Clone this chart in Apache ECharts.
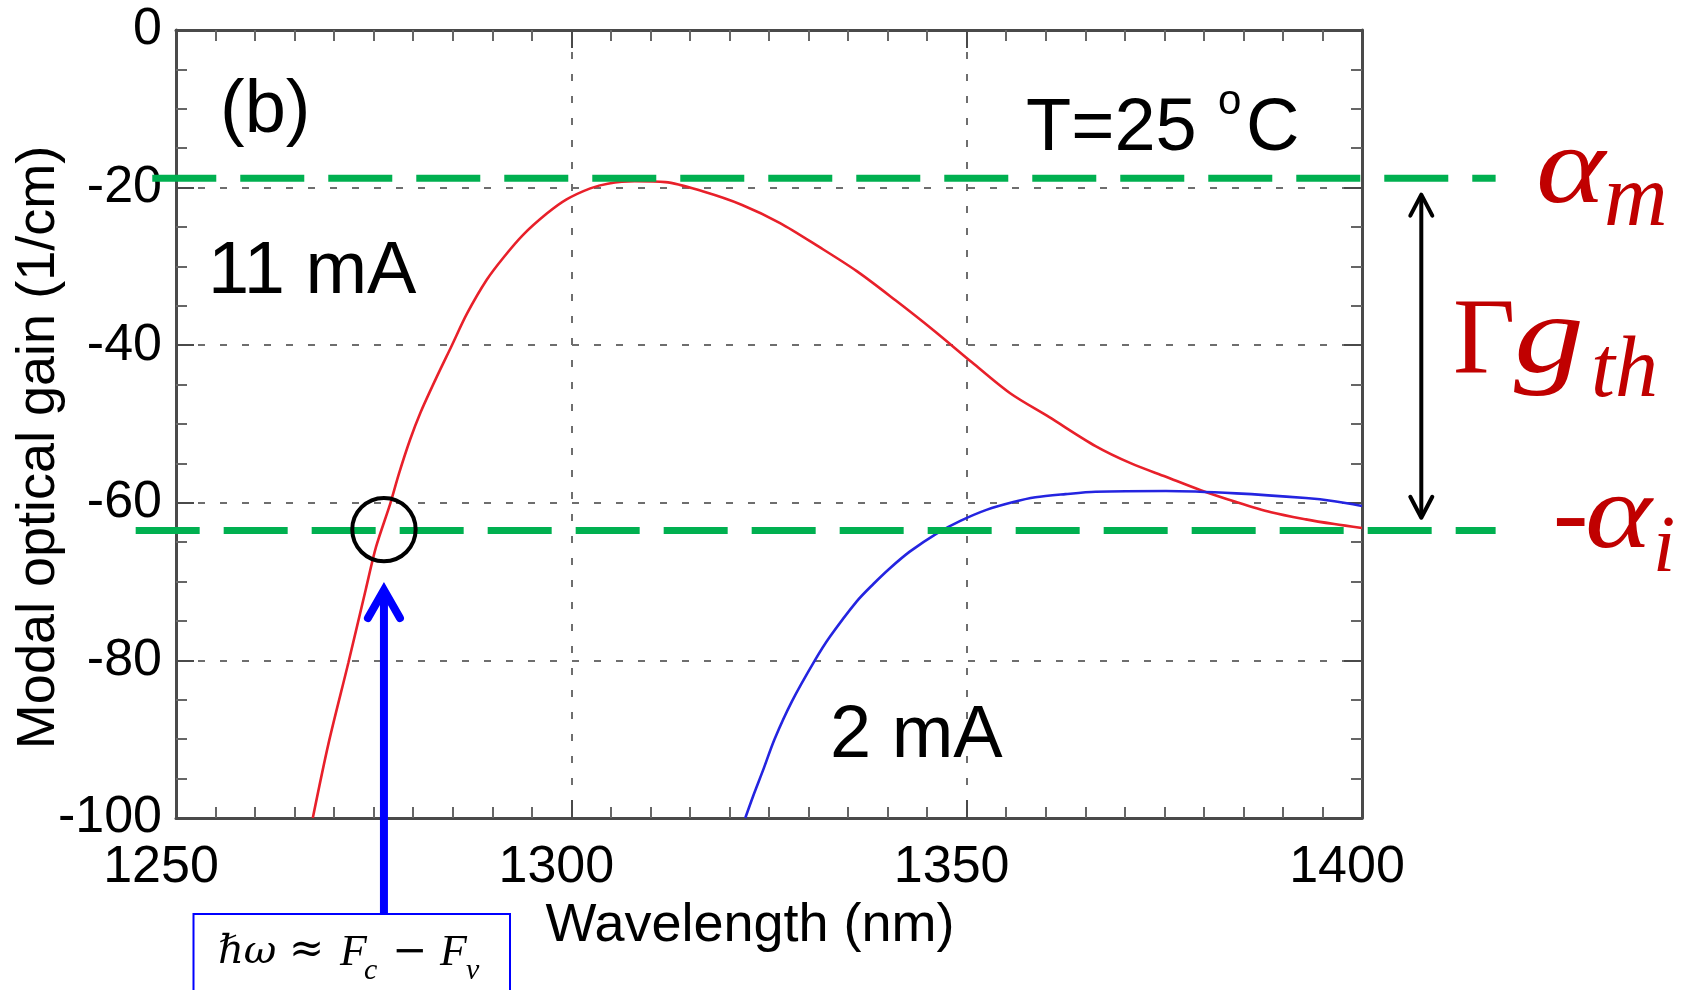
<!DOCTYPE html>
<html><head><meta charset="utf-8">
<script src="https://cdn.jsdelivr.net/npm/echarts@6/dist/echarts.min.js"></script>
<style>html,body{margin:0;padding:0;background:#fff;}#c{width:1688px;height:990px;}</style>
</head><body><div id="c"></div>
<script>
// ---- data ----
const xTickLabels = ['1250', '1300', '1350', '1400'];
const yTickLabels = ['-100', '-80', '-60', '-40', '-20', '0'];
const wl11 = [1267.3, 1269.3, 1271.8, 1274.0, 1275.3, 1277.1, 1278.2, 1279.6, 1280.9, 1282.8, 1284.9, 1286.8, 1289.3, 1291.4, 1293.9, 1296.9, 1299.4, 1302.4, 1304.6, 1308.0, 1311.9, 1316.7, 1321.6, 1326.4, 1331.3, 1336.1, 1341.0, 1345.8, 1350.7, 1355.5, 1360.4, 1366.3, 1370.8, 1375.2, 1379.6, 1384.1, 1388.5, 1392.9, 1396.5, 1400.0];
const gain11 = [-100, -90.5, -80.3, -71.0, -65.6, -60.1, -56.3, -52.0, -48.6, -44.4, -40.0, -36.0, -31.7, -28.9, -26.0, -23.3, -21.5, -20.1, -19.5, -19.2, -19.3, -20.5, -22.2, -24.5, -27.5, -30.6, -34.3, -38.1, -42.2, -46.1, -49.1, -52.8, -55.0, -56.7, -58.4, -59.9, -61.2, -62.1, -62.7, -63.2];
const wl2 = [1322.0, 1323.0, 1324.3, 1325.7, 1327.9, 1330.8, 1332.7, 1336.1, 1338.2, 1340.3, 1342.8, 1346.2, 1349.2, 1352.5, 1355.9, 1358.7, 1362.5, 1366.3, 1375.2, 1384.1, 1392.9, 1396.5, 1400.0];
const gain2 = [-100, -97.2, -93.8, -90.0, -85.2, -80.0, -77.0, -72.5, -70.3, -68.3, -66.2, -63.9, -62.3, -60.9, -59.9, -59.3, -58.9, -58.6, -58.5, -58.8, -59.4, -59.8, -60.4];
const alphaM = -18.8;        // mirror loss level
const minusAlphaI = -63.5;   // internal loss level
const alphaMSpan = [1247.0, 1416.9];
const alphaISpan = [1244.9, 1416.9];
const circleAt = [1276.3, -63.4];
const gthArrow = [1407.5, -20.9, -61.9];  // x, top, bottom

const chart = echarts.init(document.getElementById('c'));
const sans = 'Liberation Sans, Arial, sans-serif';
const serif = 'Liberation Serif, DejaVu Serif, serif';
const axisCol = '#4a4a4a';

function baseAxis(extra) {
  return Object.assign({
    axisLine: {show: true, onZero: false, lineStyle: {color: axisCol, width: 3}},
    axisTick: {show: true, inside: true, length: 18, lineStyle: {color: axisCol, width: 2}},
    minorTick: {show: true, length: 11, lineStyle: {color: '#666', width: 2}},
    splitLine: {show: false}
  }, extra);
}

const option = {
  backgroundColor: '#fff',
  animation: false,
  grid: {left: 176, right: 326, top: 30, bottom: 172, containLabel: false, outerBoundsMode: 'none'},
  xAxis: [
    baseAxis({
      type: 'value', min: 1250, max: 1400, interval: 50,
      minorTick: {show: true, splitNumber: 10, length: 11, lineStyle: {color: '#666', width: 2}},
      name: 'Wavelength (nm)', nameLocation: 'middle', nameGap: 68,
      nameTextStyle: {fontFamily: sans, fontSize: 54, color: '#000', padding: [0, 38, 0, 0]},
      axisLabel: {fontFamily: sans, fontSize: 52, color: '#000', margin: 24, padding: [0, 30, 0, 0],
        formatter: v => xTickLabels[Math.round((v - 1250) / 50)]},
      splitLine: {show: true, lineStyle: {color: '#6e6e6e', width: 2, type: [7, 15]}}
    }),
    baseAxis({
      type: 'value', min: 1250, max: 1400, interval: 50, position: 'top',
      minorTick: {show: true, splitNumber: 10, length: 11, lineStyle: {color: '#666', width: 2}},
      axisLabel: {show: false}
    })
  ],
  yAxis: [
    baseAxis({
      type: 'value', min: -100, max: 0, interval: 20,
      minorTick: {show: true, splitNumber: 4, length: 11, lineStyle: {color: '#666', width: 2}},
      name: 'Modal optical gain (1/cm)', nameLocation: 'middle', nameGap: 110, nameMoveOverlap: false,
      nameTextStyle: {fontFamily: sans, fontSize: 54, color: '#000', padding: [0, 47, 0, 0]},
      axisLabel: {fontFamily: sans, fontSize: 52, color: '#000', margin: 14,
        formatter: v => yTickLabels[Math.round((v + 100) / 20)]},
      splitLine: {show: true, lineStyle: {color: '#6e6e6e', width: 2, type: [7, 15]}}
    }),
    baseAxis({
      type: 'value', min: -100, max: 0, interval: 20, position: 'right',
      minorTick: {show: true, splitNumber: 4, length: 11, lineStyle: {color: '#666', width: 2}},
      axisLabel: {show: false}
    })
  ],
  series: [
    {name: '11 mA', type: 'line', xAxisIndex: 0, yAxisIndex: 0, showSymbol: false, smooth: 0.3,
     data: wl11.map((x, i) => [x, gain11[i]]),
     lineStyle: {color: '#e8202a', width: 2.6}, z: 5},
    {name: '2 mA', type: 'line', xAxisIndex: 0, yAxisIndex: 0, showSymbol: false, smooth: 0.3,
     data: wl2.map((x, i) => [x, gain2[i]]),
     lineStyle: {color: '#2424e0', width: 2.6}, z: 5}
  ]
};
chart.setOption(option);

const P = (x, y) => chart.convertToPixel({gridIndex: 0}, [x, y]);
const red = '#c00000';
function txt(text, x, y, font, size, color, style, extra) {
  return Object.assign({type: 'text', x: x, y: y, z: 120,
    style: {text: text, fontFamily: font, fontSize: size, fill: color, fontStyle: style || 'normal',
      align: 'left', verticalAlign: 'middle'}}, extra || {});
}

const gA = [P(alphaMSpan[0], alphaM), P(alphaMSpan[1], alphaM)];
const gI = [P(alphaISpan[0], minusAlphaI), P(alphaISpan[1], minusAlphaI)];
const cc = P(circleAt[0], circleAt[1]);
const aTop = P(gthArrow[0], gthArrow[1]);
const aBot = P(gthArrow[0], gthArrow[2]);
const bx = cc[0];
const tipY = 590;
const boxTop = 914;
const dv = 'DejaVu Serif, serif';

const graphics = [
  {type: 'line', z: 100, shape: {x1: gA[0][0], y1: gA[0][1], x2: gA[1][0], y2: gA[1][1]},
   style: {stroke: '#00b050', lineWidth: 7, lineDash: [64, 24]}},
  {type: 'line', z: 100, shape: {x1: gI[0][0], y1: gI[0][1], x2: gI[1][0], y2: gI[1][1]},
   style: {stroke: '#00b050', lineWidth: 7, lineDash: [64, 24]}},
  {type: 'circle', z: 110, shape: {cx: cc[0], cy: cc[1], r: 31.7},
   style: {fill: 'none', stroke: '#000', lineWidth: 4}},
  // blue arrow
  {type: 'line', z: 110, shape: {x1: bx, y1: boxTop, x2: bx, y2: tipY},
   style: {stroke: '#0000ff', lineWidth: 8}},
  {type: 'polyline', z: 110, shape: {points: [[bx - 16, tipY + 28], [bx, tipY], [bx + 16, tipY + 28]]},
   style: {stroke: '#0000ff', lineWidth: 8, fill: 'none', lineCap: 'round', lineJoin: 'miter'}},
  {type: 'rect', z: 110, shape: {x: 193.5, y: boxTop, width: 316.5, height: 100},
   style: {fill: '#fff', stroke: '#0000ff', lineWidth: 2}},
  // double arrow
  {type: 'line', z: 110, shape: {x1: aTop[0], y1: aTop[1] + 2, x2: aBot[0], y2: aBot[1] - 2},
   style: {stroke: '#000', lineWidth: 4}},
  {type: 'polyline', z: 110, shape: {points: [[aTop[0] - 11, aTop[1] + 21], [aTop[0], aTop[1]], [aTop[0] + 11, aTop[1] + 21]]},
   style: {stroke: '#000', lineWidth: 4, fill: 'none', lineCap: 'round', lineJoin: 'round'}},
  {type: 'polyline', z: 110, shape: {points: [[aBot[0] - 11, aBot[1] - 21], [aBot[0], aBot[1]], [aBot[0] + 11, aBot[1] - 21]]},
   style: {stroke: '#000', lineWidth: 4, fill: 'none', lineCap: 'round', lineJoin: 'round'}},
  // in-plot labels
  txt('(b)', 220, 112, sans, 74, '#000'),
  txt('11 mA', 208, 273, sans, 74, '#000'),
  txt('T=25', 1026, 130, sans, 74, '#000'),
  txt('o', 1218, 102, sans, 42, '#000'),
  txt('C', 1246, 130, sans, 74, '#000'),
  txt('2 mA', 830, 737, sans, 74, '#000'),
  // right-side symbols
  txt('α', 1536, 173, serif, 110, red, 'italic', {scaleX: 1.2}),
  txt('m', 1604, 202, serif, 88, red, 'italic'),
  txt('Γ', 1453, 344, serif, 108, red),
  txt('g', 1514, 343, serif, 112, red, 'italic', {scaleX: 1.25}),
  txt('th', 1591, 373, serif, 86, red, 'italic'),
  txt('-', 1553, 519, serif, 106, red),
  txt('α', 1585, 519, serif, 106, red, 'italic', {scaleX: 1.2}),
  txt('i', 1653, 550, serif, 80, red, 'italic'),
  // formula in the box
  txt('ℏω', 218, 953, dv, 40, '#000', 'italic'),
  txt('≈', 289, 951, dv, 42, '#000'),
  txt('F', 340, 953, serif, 44, '#000', 'italic'),
  txt('c', 364, 971, serif, 30, '#000', 'italic'),
  txt('−', 392, 953, dv, 42, '#000'),
  txt('F', 440, 953, serif, 44, '#000', 'italic'),
  txt('v', 466, 971, serif, 30, '#000', 'italic')
];
chart.setOption({graphic: graphics});
</script>
</body></html>
